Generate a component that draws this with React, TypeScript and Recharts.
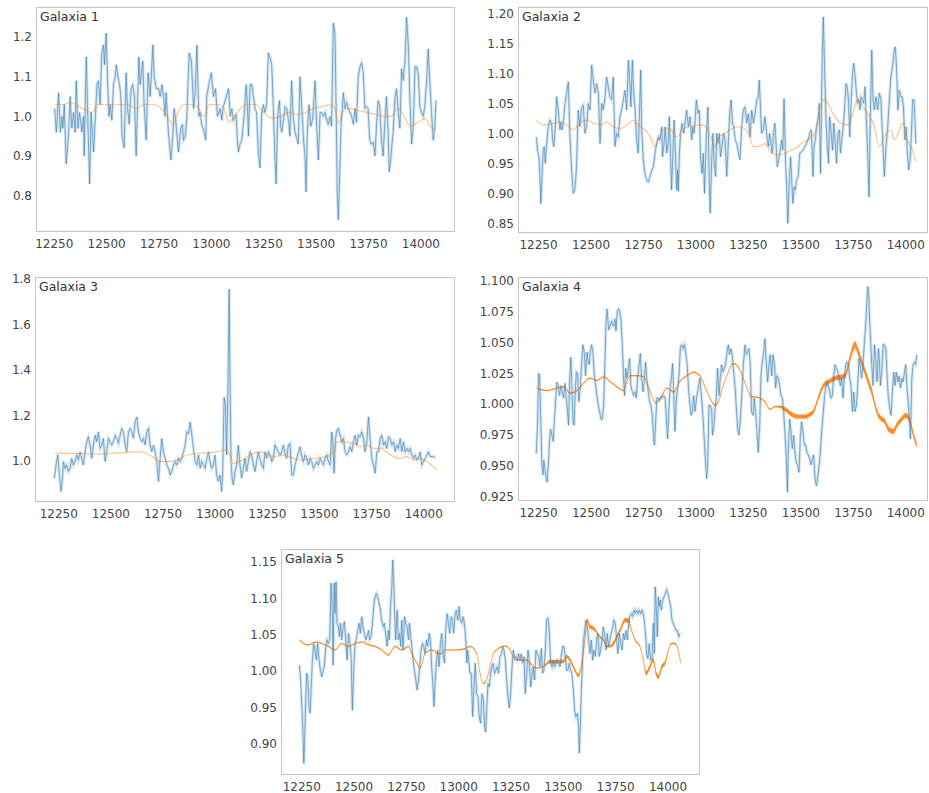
import React from 'react';
import { ComposedChart, Line, Area, XAxis, YAxis } from 'recharts';

const FONT = "'DejaVu Sans', Verdana, sans-serif";

const X_TICKS = [12250, 12500, 12750, 13000, 13250, 13500, 13750, 14000];
const Y_TICKS_1 = [0.8, 0.9, 1.0, 1.1, 1.2];
const Y_TICKS_2 = [0.85, 0.9, 0.95, 1.0, 1.05, 1.1, 1.15, 1.2];
const Y_TICKS_3 = [1.0, 1.2, 1.4, 1.6, 1.8];
const Y_TICKS_4 = [0.925, 0.95, 0.975, 1.0, 1.025, 1.05, 1.075, 1.1];
const Y_TICKS_5 = [0.9, 0.95, 1.0, 1.05, 1.1, 1.15];

const TITLES = ['Galaxia 1', 'Galaxia 2', 'Galaxia 3', 'Galaxia 4', 'Galaxia 5'];

// [wavelength, flux] observed spectra (blue)
const g1Spectrum: [number, number][] = [
  [12252,1.02],[12260,0.96],[12271,1.06],[12279,0.96],[12287,1.0],[12291,0.97],[12298,1.03],[12307,0.88],[12318,0.95],[12326,1.05],
  [12334,0.97],[12342,1.01],[12350,0.96],[12355,1.09],[12363,0.97],[12371,1.01],[12382,0.96],[12390,1.0],[12393,0.9],[12403,1.15],
  [12411,0.98],[12419,0.83],[12426,1.01],[12438,0.91],[12454,1.08],[12461,1.09],[12469,1.03],[12477,1.16],[12485,1.18],[12490,1.13],
  [12498,1.21],[12504,1.1],[12511,1.0],[12517,1.03],[12525,0.99],[12533,1.08],[12541,1.1],[12546,1.13],[12554,1.1],[12562,1.08],
  [12568,1.05],[12574,0.95],[12584,0.92],[12593,1.11],[12600,1.02],[12608,0.98],[12617,1.07],[12625,1.08],[12633,1.05],[12641,0.9],
  [12654,1.15],[12660,1.08],[12673,1.14],[12679,1.03],[12689,0.94],[12698,1.11],[12708,1.05],[12721,1.18],[12727,1.1],[12737,1.07],
  [12748,1.07],[12756,1.05],[12765,1.08],[12772,1.05],[12779,1.0],[12784,1.06],[12795,0.96],[12807,0.89],[12816,0.95],[12822,1.02],
  [12830,0.99],[12843,0.91],[12854,0.97],[12862,0.98],[12867,0.94],[12876,0.95],[12883,1.0],[12894,1.16],[12905,1.14],[12915,1.02],
  [12923,1.06],[12931,1.18],[12940,1.0],[12946,1.01],[12954,0.98],[12966,0.96],[12973,0.94],[12978,1.05],[12988,1.08],[13000,1.11],
  [13010,1.05],[13020,1.07],[13029,1.0],[13042,1.02],[13050,0.99],[13055,1.02],[13082,1.07],[13090,1.0],[13098,1.02],[13105,0.99],
  [13118,1.005],[13124,0.94],[13129,0.91],[13137,0.93],[13145,0.94],[13156,1.0],[13166,1.08],[13172,1.03],[13177,0.95],[13185,1.08],
  [13193,1.08],[13201,1.05],[13208,1.02],[13216,1.01],[13224,0.91],[13232,0.87],[13240,1.005],[13248,1.03],[13256,1.01],[13264,1.03],
  [13272,1.16],[13280,1.15],[13288,1.13],[13296,1.02],[13304,0.89],[13309,0.83],[13317,1.005],[13325,1.04],[13331,0.975],[13336,0.96],
  [13344,0.99],[13352,1.025],[13360,1.02],[13368,0.99],[13375,0.95],[13383,1.09],[13391,1.0],[13399,0.96],[13408,0.945],[13415,0.93],
  [13423,1.1],[13431,1.03],[13440,0.94],[13447,0.9],[13452,0.81],[13458,0.96],[13466,1.03],[13475,0.975],[13484,0.995],[13495,1.09],
  [13503,0.97],[13511,0.89],[13519,1.01],[13527,1.01],[13535,1.0],[13543,1.01],[13551,0.99],[13558,0.98],[13566,1.0],[13574,0.975],
  [13582,1.235],[13590,1.21],[13595,1.04],[13601,0.81],[13606,0.74],[13611,0.82],[13619,0.975],[13627,1.035],[13630,1.06],[13638,1.02],
  [13646,1.035],[13654,1.02],[13662,1.01],[13670,1.0],[13678,0.98],[13686,1.02],[13693,0.985],[13701,1.1],[13709,1.125],[13717,1.135],
  [13725,1.11],[13733,1.02],[13740,1.025],[13748,1.02],[13756,0.94],[13764,0.93],[13773,0.935],[13781,0.9],[13789,0.985],[13796,1.04],
  [13804,1.025],[13812,0.94],[13820,0.9],[13828,0.985],[13836,1.05],[13844,0.96],[13849,0.86],[13856,0.89],[13863,0.935],[13868,0.96],
  [13876,1.045],[13884,1.07],[13892,1.01],[13900,0.97],[13908,1.12],[13916,1.09],[13924,1.135],[13932,1.25],[13940,1.18],[13948,1.04],
  [13956,0.93],[13964,0.975],[13972,1.125],[13980,1.125],[13988,1.105],[13995,1.025],[14003,1.01],[14011,1.0],[14019,1.025],[14027,1.085],
  [14035,1.17],[14043,1.085],[14051,1.01],[14059,0.94],[14067,0.975],[14072,1.04],
];

const g2Spectrum: [number, number][] = [
  [12240,0.994],[12245,0.972],[12252,0.961],[12256,0.933],[12261,0.883],[12267,0.933],[12272,0.972],[12277,0.978],[12282,0.95],[12288,0.978],
  [12296,1.011],[12304,1.022],[12312,1.017],[12317,0.989],[12323,0.978],[12330,1.011],[12336,1.061],[12344,1.039],[12352,1.006],[12357,1.019],
  [12363,1.006],[12369,1.022],[12376,1.05],[12384,1.067],[12392,1.086],[12399,1.0],[12407,0.944],[12415,0.9],[12423,0.906],[12431,0.944],
  [12439,1.039],[12447,1.011],[12455,1.042],[12463,1.047],[12471,1.0],[12479,1.011],[12487,1.05],[12495,1.039],[12503,1.114],[12511,1.089],
  [12519,1.067],[12527,1.083],[12535,1.067],[12543,0.983],[12551,1.05],[12558,1.039],[12566,1.056],[12574,1.094],[12582,1.078],[12590,1.061],
  [12598,1.056],[12606,1.094],[12614,0.978],[12622,1.0],[12630,0.994],[12638,1.028],[12646,1.039],[12654,1.056],[12662,1.072],[12670,1.039],
  [12678,1.122],[12686,1.078],[12690,1.044],[12697,1.122],[12702,1.078],[12710,1.039],[12717,0.989],[12725,0.967],[12730,1.022],[12737,1.106],
  [12741,1.011],[12749,0.956],[12757,0.933],[12765,0.922],[12773,0.919],[12781,0.928],[12789,0.939],[12797,0.944],[12805,0.967],[12813,0.983],
  [12821,0.994],[12829,0.989],[12837,1.011],[12841,0.961],[12848,0.983],[12853,1.011],[12861,0.967],[12869,0.989],[12873,1.028],[12880,0.95],
  [12884,0.906],[12889,0.956],[12896,1.022],[12900,0.989],[12908,0.906],[12913,0.939],[12916,0.903],[12921,0.967],[12927,1.0],[12934,1.017],
  [12942,1.0],[12950,1.022],[12956,1.039],[12964,1.011],[12972,1.028],[12980,0.989],[12985,1.011],[12991,1.0],[12996,1.022],
  [13002,1.056],[13010,1.033],[13016,1.039],[13022,0.961],[13029,0.933],[13035,0.967],[13041,0.9],[13049,0.989],[13057,1.044],[13064,0.911],
  [13068,0.867],[13075,0.956],[13081,1.0],[13087,0.95],[13094,0.928],[13099,1.0],[13105,0.983],[13111,1.0],[13117,0.961],[13124,0.978],
  [13132,1.0],[13139,0.989],[13147,0.928],[13155,0.989],[13162,1.039],[13168,1.056],[13174,1.017],[13180,1.011],[13187,0.989],[13195,0.983],
  [13203,0.967],[13210,0.956],[13218,1.011],[13226,1.039],[13234,1.044],[13242,1.017],[13250,1.033],[13258,0.994],[13266,1.039],[13274,1.017],
  [13282,1.033],[13290,1.056],[13297,1.061],[13302,1.089],[13308,1.039],[13313,1.0],[13321,1.006],[13329,1.028],[13334,1.011],[13340,0.989],
  [13345,0.978],[13351,1.0],[13357,0.983],[13364,0.967],[13370,1.0],[13376,1.017],[13381,0.989],[13387,0.944],[13392,0.95],[13400,0.967],
  [13408,0.989],[13414,0.972],[13420,1.058],[13427,0.956],[13433,0.906],[13438,0.85],[13444,0.911],[13451,0.961],[13455,0.933],[13462,0.883],
  [13468,0.911],[13474,0.906],[13479,0.922],[13487,0.928],[13495,0.967],[13503,0.969],[13511,0.972],[13519,0.978],[13527,0.983],[13534,0.989],
  [13542,1.0],[13550,1.006],[13558,0.928],[13563,0.978],[13569,0.989],[13575,1.011],[13582,1.022],[13588,1.05],[13594,0.933],[13601,1.111],
  [13607,1.194],[13613,1.111],[13620,1.022],[13626,0.978],[13632,0.95],[13637,1.028],[13645,1.0],[13651,0.972],[13657,1.017],[13664,0.983],
  [13670,0.95],[13677,1.0],[13683,1.006],[13689,0.967],[13695,0.989],[13702,1.011],[13708,1.039],[13715,1.083],[13721,1.078],[13727,1.056],
  [13733,0.994],[13740,1.056],[13746,1.1],[13752,1.117],[13759,1.094],[13765,1.067],[13771,1.05],[13778,1.056],[13782,1.039],[13787,1.061],
  [13794,1.056],[13800,1.05],[13806,1.078],[13812,1.022],[13819,0.961],[13825,0.894],[13831,1.028],[13838,1.139],[13844,1.056],[13850,1.039],
  [13858,1.061],[13866,1.039],[13874,1.067],[13882,1.056],[13890,0.989],[13898,0.928],[13906,0.978],[13914,1.011],[13922,1.056],[13929,1.094],
  [13937,1.111],[13945,1.139],[13950,1.144],[13956,1.111],[13963,1.039],[13969,1.072],[13977,1.061],[13983,1.061],[13989,1.044],[13996,0.989],
  [14002,1.011],[14008,0.967],[14014,0.939],[14021,0.956],[14027,1.0],[14033,1.056],[14040,1.056],[14048,0.983],
];

const g3Spectrum: [number, number][] = [
  [12229,0.923],[12237,0.981],[12245,1.025],[12253,0.937],[12261,0.864],[12268,0.923],[12272,0.996],[12280,0.966],[12288,0.981],[12296,0.952],
  [12304,0.966],[12312,1.01],[12320,0.981],[12328,0.996],[12336,1.025],[12344,1.003],[12352,1.039],[12360,1.01],[12368,0.981],[12376,1.039],
  [12384,1.083],[12392,1.105],[12400,1.069],[12408,1.01],[12416,1.069],[12424,1.112],[12432,1.083],[12440,1.127],[12448,1.054],[12456,1.069],
  [12464,1.098],[12472,0.996],[12480,1.039],[12488,1.098],[12496,1.083],[12504,1.069],[12512,1.083],[12520,1.112],[12528,1.098],[12536,1.076],
  [12544,1.112],[12552,1.142],[12560,1.127],[12568,1.069],[12576,1.039],[12584,1.127],[12592,1.142],[12600,1.127],[12608,1.098],[12616,1.171],
  [12624,1.193],[12632,1.127],[12640,1.098],[12648,1.083],[12656,1.098],[12664,1.069],[12672,1.127],[12680,1.142],[12688,1.069],[12696,1.039],
  [12704,1.069],[12712,1.039],[12720,0.996],[12728,0.908],[12736,1.01],[12744,1.098],[12752,1.039],[12760,1.01],[12768,0.981],[12776,0.966],
  [12784,0.937],[12792,0.952],[12800,0.981],[12808,0.996],[12816,0.981],[12824,1.01],[12832,0.996],[12840,1.01],[12848,1.039],[12856,1.069],
  [12864,1.127],[12872,1.12],[12880,1.171],[12888,1.112],[12896,1.054],[12904,0.996],[12912,0.981],[12920,1.025],[12928,0.966],[12936,0.996],
  [12944,0.981],[12952,0.966],[12960,1.01],[12968,1.039],[12975,0.996],[12983,0.966],[12991,0.981],[12999,1.025],[13007,0.937],[13015,0.908],
  [13023,0.937],[13031,0.864],[13036,0.952],[13043,1.28],[13049,1.244],[13055,1.025],[13062,1.361],[13067,1.755],[13071,1.375],[13076,0.996],
  [13081,0.923],[13087,0.893],[13095,0.952],[13103,0.981],[13111,1.069],[13119,0.981],[13127,0.923],[13135,0.966],[13143,1.01],[13151,0.952],
  [13159,0.996],[13167,1.039],[13175,1.025],[13183,0.981],[13191,0.952],[13199,0.996],[13207,1.039],[13215,1.01],[13223,0.981],[13231,0.966],
  [13239,1.039],[13247,1.01],[13255,1.039],[13263,1.025],[13271,0.996],[13279,1.01],[13287,1.069],[13295,1.054],[13303,1.039],[13311,1.025],
  [13319,1.039],[13327,1.069],[13335,1.032],[13343,1.01],[13351,1.069],[13359,1.076],[13367,0.937],[13375,0.937],[13383,0.981],[13391,1.01],
  [13399,1.039],[13407,1.061],[13415,1.018],[13423,0.996],[13431,1.025],[13439,1.01],[13447,0.981],[13455,1.01],[13463,0.996],[13471,0.966],
  [13479,0.981],[13487,0.996],[13495,0.981],[13503,1.01],[13511,0.996],[13519,0.981],[13527,1.01],[13535,1.025],[13543,0.996],[13551,0.981],
  [13559,1.127],[13564,1.083],[13570,0.945],[13577,1.098],[13583,1.134],[13591,1.142],[13599,1.112],[13607,1.083],[13615,1.098],[13623,1.039],
  [13631,1.025],[13639,1.039],[13647,1.061],[13655,1.039],[13663,1.083],[13671,1.112],[13679,1.069],[13687,1.112],[13695,1.105],[13703,1.127],
  [13711,1.098],[13719,1.039],[13727,1.083],[13735,1.193],[13743,1.098],[13751,1.01],[13759,0.981],[13767,0.945],[13775,1.039],[13783,1.039],
  [13791,1.098],[13799,1.112],[13807,1.069],[13815,1.083],[13823,1.054],[13831,1.105],[13839,1.098],[13847,1.069],[13855,1.083],[13863,1.039],
  [13871,1.069],[13879,1.054],[13887,1.098],[13895,1.039],[13903,1.083],[13911,1.039],[13919,1.054],[13927,1.039],[13935,1.054],[13943,1.025],
  [13951,1.01],[13959,1.025],[13967,1.003],[13975,1.01],[13983,1.039],[13991,0.981],[13999,0.996],[14007,1.01],[14015,1.025],[14023,1.039],
  [14031,1.018],[14048,1.018],[14054,1.01],
];

const g4Spectrum: [number, number][] = [
  [12239,0.96],[12245,0.983],[12250,1.025],[12255,1.023],[12260,0.991],[12266,0.951],[12271,0.943],[12275,0.955],[12280,0.948],[12287,0.94],
  [12291,0.937],[12298,0.956],[12302,0.97],[12307,0.98],[12314,0.975],[12320,0.97],[12325,0.986],[12331,1.002],[12337,1.018],[12344,1.015],
  [12350,1.007],[12357,1.015],[12363,1.01],[12369,1.005],[12376,1.017],[12382,1.005],[12388,0.994],[12393,0.983],[12398,1.018],[12404,1.038],
  [12409,1.015],[12414,0.986],[12419,0.983],[12425,1.01],[12430,1.026],[12436,1.025],[12442,1.002],[12449,1.013],[12455,1.032],[12461,1.048],
  [12468,1.042],[12474,1.023],[12481,1.042],[12487,1.034],[12492,1.032],[12496,1.042],[12503,1.048],[12509,1.042],[12516,1.023],[12522,1.015],
  [12528,1.007],[12535,0.999],[12541,0.994],[12547,0.988],[12554,0.988],[12560,0.999],[12566,1.032],[12571,1.064],[12576,1.077],[12581,1.067],
  [12585,1.06],[12592,1.064],[12598,1.067],[12603,1.064],[12608,1.063],[12614,1.069],[12619,1.059],[12625,1.075],[12632,1.077],[12636,1.076],
  [12643,1.067],[12649,1.048],[12655,1.021],[12660,1.007],[12665,1.029],[12671,1.021],[12678,1.029],[12684,1.037],[12690,1.015],[12697,1.01],
  [12703,1.007],[12710,1.01],[12716,1.005],[12722,1.021],[12729,1.032],[12735,1.041],[12741,1.021],[12748,1.01],[12754,1.021],[12760,1.034],
  [12767,1.018],[12773,1.01],[12779,1.002],[12786,0.999],[12792,0.991],[12799,0.97],[12803,0.967],[12808,0.986],[12814,1.005],[12821,1.005],
  [12827,1.003],[12834,1.006],[12840,1.005],[12846,1.007],[12853,1.005],[12859,0.988],[12865,0.972],[12872,0.999],[12878,1.015],[12884,1.023],
  [12889,1.033],[12896,0.999],[12900,0.978],[12907,1.005],[12913,1.013],[12919,1.023],[12926,1.046],[12932,1.048],[12938,1.045],[12945,1.048],
  [12951,1.042],[12958,1.032],[12964,1.015],[12970,1.002],[12977,0.991],[12983,0.994],[12989,1.007],
  [12995,0.994],[13003,1.005],[13011,1.013],[13019,1.021],[13027,1.005],[13035,0.986],[13043,0.961],[13051,0.94],[13056,0.951],[13062,0.999],
  [13068,0.999],[13075,0.996],[13079,0.975],[13086,0.983],[13091,0.996],[13097,1.005],[13103,1.029],[13110,1.007],[13116,1.021],[13122,1.032],
  [13129,1.026],[13135,1.029],[13141,1.032],[13148,1.042],[13154,1.048],[13160,1.04],[13167,1.045],[13173,1.04],[13180,1.026],[13186,1.015],
  [13192,0.999],[13199,0.98],[13205,0.975],[13211,0.986],[13218,1.005],[13226,1.032],[13234,1.048],[13240,1.04],[13246,1.042],[13253,1.045],
  [13259,1.032],[13265,0.994],[13272,0.991],[13278,1.005],[13284,0.994],[13291,0.978],[13297,0.961],[13304,0.983],[13310,1.023],[13316,1.034],
  [13323,1.042],[13329,1.053],[13335,1.034],[13342,1.018],[13348,1.032],[13354,1.04],[13361,1.023],[13367,1.04],[13374,1.032],[13380,1.013],
  [13386,1.023],[13393,1.021],[13399,1.015],[13405,1.007],[13412,1.005],[13418,0.994],[13424,0.978],[13431,0.956],[13436,0.929],[13440,0.961],
  [13447,0.988],[13453,0.978],[13459,0.964],[13466,0.975],[13472,0.961],[13478,0.953],[13485,0.951],[13491,0.945],[13498,0.975],[13504,0.986],
  [13510,0.978],[13517,0.967],[13523,0.967],[13529,0.961],[13536,0.959],[13542,0.956],[13548,0.951],[13555,0.956],[13561,0.959],[13568,0.94],
  [13574,0.934],[13580,0.94],[13587,0.951],[13593,0.961],[13599,0.978],[13606,0.991],[13612,1.005],[13618,1.013],[13625,1.018],[13631,1.015],
  [13637,1.01],[13644,1.005],[13650,1.007],[13657,1.023],[13663,1.032],[13669,1.029],[13676,1.026],[13682,1.021],[13688,1.015],[13695,1.021],
  [13701,1.005],[13707,1.021],[13714,1.032],[13720,1.034],[13727,1.032],[13733,1.021],[13739,1.015],[13746,0.994],[13752,1.01],[13758,0.994],
  [13765,0.999],[13771,1.015],[13777,1.037],[13784,1.029],[13790,1.021],[13796,1.032],[13803,1.05],[13809,1.064],[13814,1.08],[13819,1.095],
  [13824,1.088],[13828,1.067],[13833,1.05],[13838,1.032],[13844,1.015],[13851,1.048],[13857,1.037],[13863,1.018],[13870,1.045],[13874,1.037],
  [13879,1.015],[13886,1.026],[13892,1.048],[13898,1.048],[13905,1.045],[13911,1.023],[13917,1.005],[13924,0.996],[13930,0.991],[13936,1.01],
  [13943,1.026],[13949,1.015],[13955,1.026],[13962,1.018],[13968,1.023],[13975,1.013],[13981,1.021],[13987,1.018],[13994,1.026],[14000,1.032],
  [14006,1.013],[14013,0.999],[14019,0.983],[14022,0.972],[14029,1.021],[14035,1.032],[14041,1.034],[14048,1.032],[14052,1.04],
];

const g5Spectrum: [number, number][] = [
  [12239,1.008],[12245,0.988],[12250,0.955],[12255,0.923],[12260,0.873],[12264,0.905],[12269,0.96],[12274,0.997],[12279,0.992],[12285,0.951],
  [12290,0.942],[12295,0.974],[12301,1.015],[12307,1.038],[12314,1.029],[12320,1.015],[12326,1.038],[12333,1.015],[12339,1.001],[12346,0.992],
  [12352,1.001],[12358,1.006],[12365,1.034],[12371,1.043],[12377,1.038],[12384,1.043],[12390,1.121],[12395,1.098],[12400,1.008],[12405,1.121],
  [12409,1.079],[12414,1.123],[12419,1.066],[12425,1.061],[12430,1.047],[12435,1.066],[12441,1.043],[12448,1.061],[12454,1.068],[12460,1.043],
  [12467,1.015],[12473,1.052],[12479,1.043],[12486,1.02],[12492,0.946],[12499,1.006],[12505,1.038],[12511,1.043],[12518,1.056],[12524,1.066],
  [12530,1.052],[12537,1.075],[12543,1.061],[12549,1.052],[12556,1.043],[12562,1.047],[12569,1.056],[12575,1.043],[12581,1.047],[12588,1.066],
  [12594,1.089],[12600,1.102],[12607,1.107],[12613,1.102],[12620,1.093],[12626,1.084],[12632,1.07],[12639,1.061],[12645,1.066],[12651,1.052],
  [12658,1.034],[12664,1.056],[12669,1.043],[12674,1.089],[12680,1.112],[12685,1.153],[12690,1.121],[12694,1.079],[12699,1.043],[12706,1.084],
  [12712,1.043],[12718,1.052],[12723,1.034],[12728,1.07],[12734,1.029],[12741,1.075],[12747,1.066],[12753,1.061],[12760,1.043],[12765,1.066],
  [12769,1.052],[12776,1.034],[12782,1.015],[12788,1.001],[12795,0.988],[12801,0.974],[12808,0.988],[12814,1.006],[12820,1.029],[12827,1.038],
  [12833,1.034],[12839,1.024],[12846,1.043],[12852,1.034],[12859,1.052],[12865,1.043],[12871,1.006],[12878,0.974],[12882,0.951],[12887,0.983],
  [12894,1.015],[12900,1.029],[12906,1.006],[12913,1.038],[12919,1.052],[12925,1.024],[12932,1.011],[12938,1.056],[12945,1.079],[12951,1.066],
  [12957,1.052],[12964,1.075],[12970,1.07],[12976,1.052],[12983,1.079],[12989,1.084],[12996,1.07],[13002,1.089],[13008,1.07],[13015,1.066],
  [13021,1.075],[13027,1.066],[13034,1.043],[13039,1.011],[13043,1.029],[13048,1.015],[13054,0.997],
  [13060,0.997],[13067,0.937],[13073,0.978],[13079,1.011],[13086,0.969],[13092,0.965],[13098,0.937],[13105,0.928],[13111,0.969],[13118,0.96],
  [13124,0.923],[13129,0.916],[13133,0.942],[13140,0.983],[13146,0.978],[13153,0.997],[13159,1.006],[13165,1.011],[13172,0.997],[13178,1.001],
  [13184,1.006],[13191,0.997],[13197,1.02],[13204,1.024],[13210,1.034],[13216,1.029],[13223,1.015],[13229,0.988],[13235,0.965],[13242,0.949],
  [13248,0.969],[13255,1.006],[13261,1.029],[13267,1.017],[13274,1.02],[13280,1.015],[13286,1.024],[13293,1.015],[13299,1.024],[13306,1.011],
  [13312,1.02],[13318,0.969],[13325,0.997],[13331,1.029],[13337,1.015],[13344,0.978],[13350,0.992],[13356,1.006],[13363,0.988],[13369,1.029],
  [13376,1.024],[13382,1.02],[13388,1.006],[13395,1.031],[13401,0.997],[13407,1.001],[13414,1.029],[13420,1.07],[13427,1.073],[13433,1.056],
  [13439,1.011],[13446,1.006],[13452,1.015],[13458,1.006],[13465,1.011],[13471,1.015],[13478,1.011],[13484,1.006],[13490,1.02],[13497,1.034],
  [13503,1.034],[13509,1.02],[13516,1.001],[13522,1.001],[13528,1.011],[13535,1.001],[13541,0.997],[13548,0.974],[13554,0.946],[13560,0.937],
  [13567,0.942],[13573,0.923],[13576,0.887],[13581,0.923],[13586,0.974],[13591,1.006],[13595,1.038],[13602,1.056],[13608,1.07],[13614,1.061],
  [13621,1.043],[13627,1.024],[13634,1.043],[13640,1.015],[13646,1.029],[13653,1.02],[13659,1.043],[13665,1.052],[13672,1.02],[13678,1.029],
  [13685,1.043],[13691,1.061],[13697,1.052],[13704,1.029],[13710,1.052],[13716,1.034],[13723,1.043],[13729,1.052],[13736,1.061],[13742,1.07],
  [13748,1.066],[13755,1.043],[13761,1.024],[13767,1.052],[13774,1.038],[13780,1.029],[13787,1.052],[13793,1.043],[13799,1.056],[13806,1.043],
  [13812,1.066],[13818,1.075],[13825,1.079],[13831,1.075],[13838,1.084],[13844,1.079],[13850,1.084],[13857,1.079],[13863,1.084],[13869,1.079],
  [13876,1.084],[13882,1.079],[13888,1.066],[13895,1.043],[13898,1.024],[13904,1.017],[13910,1.038],[13917,1.015],[13924,1.017],[13930,1.066],
  [13935,1.024],[13939,1.116],[13944,1.089],[13949,1.047],[13954,1.102],[13959,1.089],[13963,1.098],[13968,1.084],[13975,1.098],[13981,1.102],
  [13987,1.107],[13994,1.112],[14000,1.107],[14006,1.098],[14013,1.089],[14019,1.07],[14025,1.066],[14032,1.061],[14038,1.056],[14045,1.056],
  [14051,1.047],[14057,1.052],
];

// [wavelength, flux] model fits (orange)
const g1Model: [number, number][] = [
  [12255,1.03],[12290,1.03],[12330,1.035],[12370,1.025],[12400,1.015],[12430,1.01],[12460,1.03],[12500,1.03],[12550,1.03],[12600,1.03],
  [12640,1.02],[12680,1.03],[12720,1.03],[12760,1.02],[12790,1.0],[12815,0.98],[12840,1.01],[12870,1.03],[12910,1.03],[12940,1.02],
  [12965,1.0],[12990,1.03],[13030,1.03],[13060,1.02],[13085,0.985],[13110,1.0],[13140,1.02],[13170,1.03],[13210,1.03],[13250,1.01],
  [13290,0.995],[13330,1.0],[13370,1.01],[13410,1.005],[13450,1.01],[13490,1.02],[13530,1.025],[13570,1.03],[13590,1.02],[13605,0.98],
  [13625,1.01],[13660,1.02],[13700,1.015],[13740,1.01],[13780,1.005],[13820,1.0],[13860,1.0],[13890,1.02],[13920,1.0],[13950,0.975],
  [13985,0.985],[14020,0.995],[14045,0.975],[14072,0.965],
];

const g2Model: [number, number][] = [
  [12240,1.022],[12272,1.014],[12320,1.017],[12352,1.019],[12384,1.014],[12415,1.006],[12447,1.017],[12479,1.022],[12511,1.017],[12543,1.014],
  [12574,1.019],[12606,1.011],[12638,1.008],[12670,1.014],[12702,1.022],[12733,1.011],[12765,1.003],[12789,0.989],[12805,0.978],[12821,0.989],
  [12845,1.006],[12876,1.008],[12908,0.994],[12942,1.008],[12972,1.011],[13029,1.014],[13053,1.008],[13076,0.989],[13092,0.978],[13108,0.994],
  [13139,1.0],[13171,1.008],[13203,1.011],[13234,1.008],[13250,1.0],[13274,0.978],[13297,0.978],[13329,0.983],[13361,0.967],[13392,0.964],
  [13424,0.967],[13455,0.972],[13487,0.978],[13503,0.983],[13534,0.989],[13566,1.0],[13590,1.039],[13613,1.058],[13629,1.05],[13661,1.028],
  [13692,1.017],[13724,1.014],[13748,1.033],[13771,1.058],[13795,1.044],[13819,1.033],[13850,1.011],[13874,0.978],[13898,0.994],[13929,1.006],
  [13945,0.989],[13969,1.006],[13985,1.017],[14008,0.989],[14032,0.972],[14048,0.953],
];

const g3Model: [number, number][] = [
  [12232,1.032],[12336,1.032],[12448,1.029],[12640,1.039],[12688,1.025],[12736,0.996],[12784,0.996],[12832,1.01],[12864,1.025],[12928,1.032],
  [13007,1.039],[13055,1.047],[13071,1.025],[13087,0.988],[13119,0.996],[13167,1.025],[13215,1.039],[13279,1.018],[13327,1.025],[13375,1.01],
  [13407,1.003],[13471,1.01],[13535,1.018],[13567,1.039],[13583,1.083],[13615,1.083],[13663,1.076],[13695,1.061],[13727,1.069],[13759,1.054],
  [13790,1.054],[13822,1.039],[13854,1.018],[13886,1.01],[13918,1.018],[13950,1.003],[13982,1.01],[14014,0.996],[14046,0.974],[14060,0.96],
];

// [wavelength, flux, uncertainty] model fits with visible uncertainty band
const g4Model: [number, number, number][] = [
  [12242,1.013,0.0005],[12290,1.011,0.0005],[12337,1.013,0.0005],[12369,1.014,0.0005],[12401,1.009,0.0005],[12433,1.011,0.0005],
  [12465,1.017,0.0005],[12496,1.021,0.0005],[12528,1.019,0.0005],[12560,1.022,0.0005],[12592,1.018,0.0005],[12624,1.014,0.0005],
  [12655,1.011,0.0005],[12671,1.018,0.0005],[12687,1.023,0.0005],[12719,1.023,0.0005],[12751,1.022,0.0005],[12783,1.01,0.0005],
  [12807,1.001,0.0005],[12830,1.005,0.0005],[12862,1.013,0.0005],[12894,1.01,0.0005],[12926,1.019,0.0005],[12958,1.023,0.0005],
  [12989,1.026,0.0005],[13019,1.023,0.0005],[13043,1.014,0.0005],[13067,1.005,0.0005],[13091,0.999,0.0005],[13107,1.002,0.0005],
  [13130,1.015,0.0005],[13154,1.026,0.0005],[13178,1.033,0.0005],[13202,1.03,0.0005],[13226,1.021,0.0005],[13250,1.01,0.0005],
  [13266,1.006,0.0005],[13282,1.006,0.0005],[13305,1.005,0.0005],[13329,1.002,0.0005],[13353,0.996,0.0005],[13377,0.998,0.0005],
  [13401,0.998,0.001],[13424,0.996,0.0018],[13456,0.992,0.0018],[13488,0.99,0.0018],[13520,0.99,0.0018],[13544,0.992,0.0018],
  [13560,0.994,0.0018],[13583,1.005,0.0018],[13607,1.015,0.002],[13631,1.018,0.002],[13663,1.021,0.002],[13695,1.022,0.002],
  [13711,1.023,0.002],[13727,1.032,0.003],[13742,1.042,0.003],[13758,1.048,0.003],[13774,1.042,0.003],[13790,1.034,0.003],
  [13806,1.026,0.003],[13822,1.018,0.003],[13838,1.01,0.003],[13854,0.999,0.0022],[13870,0.991,0.0022],[13886,0.988,0.0022],
  [13901,0.986,0.0022],[13917,0.98,0.0022],[13941,0.978,0.0022],[13957,0.983,0.0022],[13981,0.988,0.0022],[14000,0.991,0.0022],
  [14021,0.986,0.0022],[14037,0.975,0.0022],[14052,0.967,0.0022],
];

const g5Model: [number, number, number][] = [
  [12239,1.043,0.0008],[12258,1.038,0.0008],[12282,1.036,0.0008],[12314,1.04,0.0008],[12346,1.038,0.0008],[12377,1.034,0.0008],
  [12409,1.029,0.0008],[12441,1.038,0.0008],[12473,1.034,0.0008],[12505,1.038,0.0008],[12537,1.04,0.0008],[12569,1.036,0.0008],
  [12600,1.034,0.0008],[12632,1.029,0.0008],[12664,1.022,0.0008],[12696,1.034,0.0008],[12728,1.029,0.0008],[12760,1.034,0.0008],
  [12776,1.024,0.0008],[12800,1.011,0.0008],[12816,1.004,0.0008],[12839,1.024,0.0008],[12871,1.029,0.0008],[12903,1.024,0.0008],
  [12919,1.024,0.0008],[12935,1.029,0.0008],[12983,1.029,0.0008],[13031,1.031,0.0008],[13054,1.034,0.0008],[13086,1.024,0.0008],
  [13102,0.997,0.0008],[13118,0.983,0.0008],[13133,0.988,0.0008],[13150,1.006,0.0008],[13165,1.024,0.0008],[13181,1.029,0.0008],
  [13213,1.034,0.0008],[13229,1.034,0.0008],[13277,1.015,0.0008],[13325,1.015,0.0008],[13341,1.011,0.0008],[13372,1.004,0.0008],
  [13404,1.006,0.0008],[13436,1.013,0.0025],[13468,1.013,0.0025],[13500,1.013,0.0025],[13516,1.02,0.0025],[13532,1.015,0.0025],
  [13548,1.006,0.0025],[13572,0.994,0.0025],[13588,1.011,0.003],[13603,1.043,0.003],[13614,1.07,0.003],[13627,1.061,0.003],
  [13643,1.059,0.003],[13659,1.054,0.0015],[13675,1.047,0.0015],[13691,1.043,0.0015],[13707,1.034,0.0015],[13723,1.034,0.0015],
  [13739,1.038,0.003],[13755,1.047,0.003],[13771,1.056,0.003],[13795,1.07,0.003],[13810,1.07,0.003],[13826,1.056,0.0012],
  [13842,1.043,0.0012],[13866,1.034,0.0012],[13882,1.015,0.0012],[13895,0.997,0.003],[13914,1.006,0.003],[13930,1.015,0.003],
  [13943,0.997,0.003],[13954,0.992,0.003],[13970,1.006,0.003],[13986,1.011,0.003],[14002,1.029,0.001],[14018,1.038,0.001],
  [14033,1.038,0.001],[14049,1.029,0.001],[14061,1.011,0.001],
];

type PanelProps = {
  title: string;
  left: number; top: number; width: number; height: number;
  xDomain: [number, number]; yDomain: [number, number];
  yTicks: number[]; yDigits: number;
  spectrum: [number, number][];
  model: [number, number][] | [number, number, number][];
  withBand?: boolean;
};

const Y_AXIS_W = 50;
const X_AXIS_H = 30;
const TOP_PAD = 10;
const tickStyle = { fill: '#444', fontSize: 12, fontFamily: FONT };

function Panel(p: PanelProps) {
  const blue = p.spectrum.map(([x, y]) => ({ x, y }));
  const orange = (p.model as any[]).map((d) => ({ x: d[0], y: d[1] }));
  const band = p.withBand
    ? (p.model as [number, number, number][]).map(([x, y, e]) => ({ x, band: [y - e, y + e] }))
    : null;
  const W = p.width + Y_AXIS_W;
  const H = p.height + X_AXIS_H + TOP_PAD;
  return (
    <div style={{ position: 'absolute', left: p.left - Y_AXIS_W, top: p.top - TOP_PAD, width: W, height: H }}>
      <ComposedChart width={W} height={H} margin={{ top: TOP_PAD, right: 0, bottom: 0, left: 0 }}>
        <XAxis
          type="number" dataKey="x" domain={p.xDomain} ticks={X_TICKS} allowDataOverflow interval={0}
          tickLine={false} axisLine={false} tickSize={0} tickMargin={7} height={X_AXIS_H} tick={tickStyle}
        />
        <YAxis
          type="number" domain={p.yDomain} ticks={p.yTicks} allowDataOverflow interval={0}
          tickLine={false} axisLine={false} tickSize={0} tickMargin={4} width={Y_AXIS_W} tick={tickStyle}
          tickFormatter={(v: number) => v.toFixed(p.yDigits)}
        />
        <Line data={blue} dataKey="y" type="linear" stroke="#1f77b4" strokeOpacity={0.2} strokeWidth={3}
          dot={false} activeDot={false} isAnimationActive={false} />
        <Line data={blue} dataKey="y" type="linear" stroke="#2f73a8" strokeOpacity={0.62} strokeWidth={0.9}
          dot={false} activeDot={false} isAnimationActive={false} />
        <Line data={orange} dataKey="y" type="monotone" stroke="#ff7f0e" strokeOpacity={0.45} strokeWidth={1.2}
          dot={false} activeDot={false} isAnimationActive={false} />
        {band && (
          <Area data={band} dataKey="band" type="monotone" stroke="none" fill="#ff7f0e" fillOpacity={0.85}
            isAnimationActive={false} activeDot={false} />
        )}
      </ComposedChart>
      <div style={{
        position: 'absolute', left: Y_AXIS_W, top: TOP_PAD, width: p.width, height: p.height,
        border: '1px solid #c4c4c4', boxSizing: 'border-box', pointerEvents: 'none',
      }} />
      <div style={{
        position: 'absolute', left: Y_AXIS_W + 4, top: TOP_PAD + 4.4, fontFamily: FONT, fontSize: 12.5,
        lineHeight: '12.5px', color: '#333', whiteSpace: 'nowrap',
      }}>{p.title}</div>
    </div>
  );
}

export default function App() {
  return (
    <div style={{ position: 'absolute', left: 0, top: 0, width: 929, height: 793, background: '#fff', overflow: 'hidden' }}>
      <Panel title={TITLES[0]} left={36} top={7} width={419} height={225}
        xDomain={[12163, 14163]} yDomain={[0.709, 1.2755]} yTicks={Y_TICKS_1} yDigits={1}
        spectrum={g1Spectrum} model={g1Model} />
      <Panel title={TITLES[1]} left={518} top={7} width={410} height={226}
        xDomain={[12152, 14106]} yDomain={[0.834, 1.2105]} yTicks={Y_TICKS_2} yDigits={2}
        spectrum={g2Spectrum} model={g2Model} />
      <Panel title={TITLES[2]} left={35} top={277} width={420} height={225}
        xDomain={[12136, 14150]} yDomain={[0.818, 1.809]} yTicks={Y_TICKS_3} yDigits={1}
        spectrum={g3Spectrum} model={g3Model} />
      <Panel title={TITLES[3]} left={518} top={277} width={410} height={224}
        xDomain={[12152, 14106]} yDomain={[0.9219, 1.1027]} yTicks={Y_TICKS_4} yDigits={3}
        spectrum={g4Spectrum} model={g4Model} withBand />
      <Panel title={TITLES[4]} left={281} top={549} width={419} height={226}
        xDomain={[12151, 14153]} yDomain={[0.857, 1.168]} yTicks={Y_TICKS_5} yDigits={2}
        spectrum={g5Spectrum} model={g5Model} withBand />
    </div>
  );
}
